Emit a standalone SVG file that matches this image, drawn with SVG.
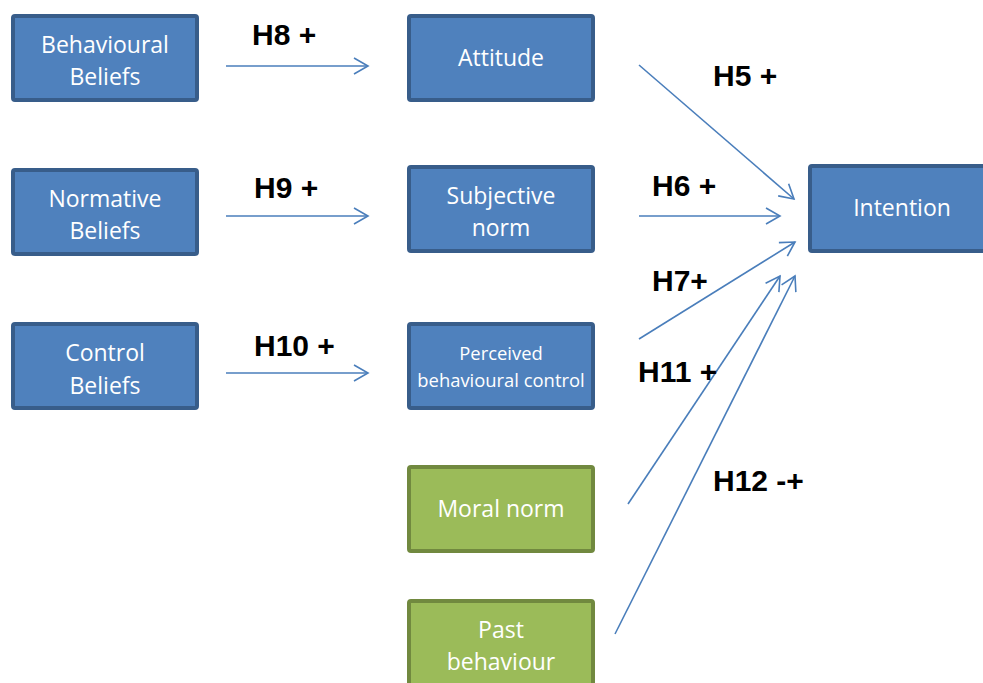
<svg xmlns="http://www.w3.org/2000/svg" width="983" height="683" viewBox="0 0 983 683">
<style>
.b{fill:#4F81BD;stroke:#385D8A;stroke-width:4}
.g{fill:#9BBB59;stroke:#71893F;stroke-width:4}
.t{fill:#fff;font-family:"Open Sans","Liberation Sans",sans-serif;font-size:23px;text-anchor:middle}
.s{font-size:18.4px}
.l{fill:#000;font-family:"Liberation Sans",Arial,sans-serif;font-weight:bold;font-size:30px}
.c{stroke:#4A7EBB;stroke-width:1.6;fill:none;marker-end:url(#a)}
</style>
<defs>
<marker id="a" markerUnits="userSpaceOnUse" markerWidth="20" markerHeight="20" refX="15" refY="10" orient="auto">
<path d="M1,2 L15,10 L1,18" fill="none" stroke="#4A7EBB" stroke-width="1.6"/>
</marker>
</defs>
<rect width="983" height="683" fill="#fff"/>
<g id="behavioural-beliefs"><rect class="b" x="13" y="16" width="184" height="84" rx="2"/><text class="t" x="105" y="53">Behavioural</text><text class="t" x="105" y="85">Beliefs</text></g>
<g id="normative-beliefs"><rect class="b" x="13" y="170" width="184" height="84" rx="2"/><text class="t" x="105" y="207">Normative</text><text class="t" x="105" y="239">Beliefs</text></g>
<g id="control-beliefs"><rect class="b" x="13" y="324" width="184" height="84" rx="2"/><text class="t" x="105" y="361">Control</text><text class="t" x="105" y="394">Beliefs</text></g>
<g id="attitude"><rect class="b" x="409" y="16" width="184" height="84" rx="2"/><text class="t" x="501" y="66">Attitude</text></g>
<g id="subjective-norm"><rect class="b" x="409" y="167" width="184" height="84" rx="2"/><text class="t" x="501" y="204">Subjective</text><text class="t" x="501" y="236">norm</text></g>
<g id="pbc"><rect class="b" x="409" y="324" width="184" height="84" rx="2"/><text class="t s" x="501" y="360">Perceived</text><text class="t s" x="501" y="387">behavioural control</text></g>
<g id="moral-norm"><rect class="g" x="409" y="467" width="184" height="84" rx="2"/><text class="t" x="501" y="517">Moral norm</text></g>
<g id="past-behaviour"><rect class="g" x="409" y="601" width="184" height="84" rx="2"/><text class="t" x="501" y="638">Past</text><text class="t" x="501" y="670">behaviour</text></g>
<g id="intention"><rect class="b" x="810" y="166" width="180" height="85" rx="2"/><text class="t" x="902" y="216">Intention</text></g>
<g id="connectors">
<line class="c" x1="226" y1="66" x2="368" y2="66"/>
<line class="c" x1="226" y1="216" x2="368" y2="216"/>
<line class="c" x1="226" y1="373" x2="368" y2="373"/>
<line class="c" x1="639" y1="65" x2="794" y2="199"/>
<line class="c" x1="639" y1="216" x2="780" y2="216"/>
<line class="c" x1="639" y1="339" x2="795" y2="242"/>
<line class="c" x1="628" y1="504" x2="780" y2="276"/>
<line class="c" x1="615" y1="634" x2="795" y2="276"/>
</g>
<g id="labels">
<text class="l" x="252" y="45">H8 +</text>
<text class="l" x="254" y="198">H9 +</text>
<text class="l" x="254" y="356">H10 +</text>
<text class="l" x="713" y="86">H5 +</text>
<text class="l" x="652" y="196">H6 +</text>
<text class="l" x="652" y="291">H7+</text>
<text class="l" x="638" y="382">H11 +</text>
<text class="l" x="713" y="491">H12 -+</text>
</g>
</svg>
